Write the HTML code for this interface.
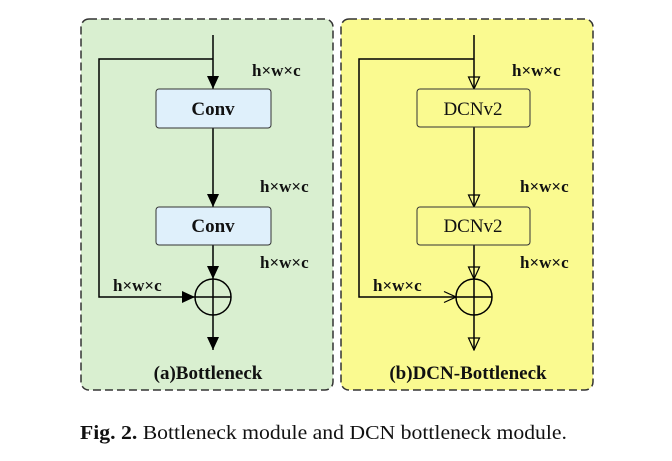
<!DOCTYPE html>
<html><head><style>body{margin:0;background:#fff}</style></head><body>
<svg width="672" height="456" xmlns="http://www.w3.org/2000/svg" font-family="Liberation Serif, serif">
<defs>
<marker id="f" markerWidth="14" markerHeight="14" refX="13" refY="6" orient="auto" markerUnits="userSpaceOnUse"><path d="M0,0 L13,6 L0,12 z" fill="#000"/></marker>
<marker id="o" markerWidth="14" markerHeight="14" refX="13" refY="6.5" orient="auto" markerUnits="userSpaceOnUse"><path d="M1,1 L13,6.5 L1,12 z" fill="none" stroke="#000" stroke-width="1.2"/></marker>
<marker id="h" markerWidth="14" markerHeight="14" refX="13" refY="6.5" orient="auto" markerUnits="userSpaceOnUse"><path d="M1,1 L13,6.5 L1,12" fill="none" stroke="#000" stroke-width="1.2"/></marker>
</defs>
<rect x="81" y="19" width="252" height="371" rx="8" fill="#d9efd0" stroke="#333" stroke-width="1.5" stroke-dasharray="8,4"/>
<rect x="341" y="19" width="252" height="371" rx="8" fill="#fafa90" stroke="#333" stroke-width="1.5" stroke-dasharray="8,4"/>
<g stroke="#000" stroke-width="1.5" fill="none">
<line x1="213" y1="35" x2="213" y2="89" marker-end="url(#f)"/>
<polyline points="213,59 99,59 99,297 195,297" marker-end="url(#f)"/>
<line x1="213" y1="128" x2="213" y2="207" marker-end="url(#f)"/>
<line x1="213" y1="245" x2="213" y2="279" marker-end="url(#f)"/>
<line x1="213" y1="315" x2="213" y2="350" marker-end="url(#f)"/>
<circle cx="213" cy="297" r="18"/><line x1="195" y1="297" x2="231" y2="297"/><line x1="213" y1="279" x2="213" y2="315"/>
<line x1="474" y1="35" x2="474" y2="89" marker-end="url(#o)"/>
<polyline points="474,59 359,59 359,297 456,297" marker-end="url(#h)"/>
<line x1="474" y1="127" x2="474" y2="207" marker-end="url(#o)"/>
<line x1="474" y1="245" x2="474" y2="279" marker-end="url(#o)"/>
<line x1="474" y1="315" x2="474" y2="350" marker-end="url(#o)"/>
<circle cx="474" cy="297" r="18"/><line x1="456" y1="297" x2="492" y2="297"/><line x1="474" y1="279" x2="474" y2="315"/>
</g>
<g stroke="#333" stroke-width="1">
<rect x="156" y="89" width="115" height="39" rx="3" fill="#dff0fb"/>
<rect x="156" y="207" width="115" height="38" rx="3" fill="#dff0fb"/>
<rect x="417" y="89" width="113" height="38" rx="3" fill="#fafa90"/>
<rect x="417" y="207" width="113" height="38" rx="3" fill="#fafa90"/>
</g>
<g font-size="19" font-weight="bold" fill="#111" text-anchor="middle">
<text x="213" y="115">Conv</text><text x="213" y="232">Conv</text>
<text x="473" y="115" font-weight="normal">DCNv2</text><text x="473" y="232" font-weight="normal">DCNv2</text>
<text x="208" y="379">(a)Bottleneck</text><text x="468" y="379">(b)DCN-Bottleneck</text>
</g>
<g font-size="17" font-weight="bold" fill="#111">
<text x="252" y="76">h×w×c</text><text x="260" y="192">h×w×c</text><text x="260" y="268">h×w×c</text><text x="113" y="291">h×w×c</text>
<text x="512" y="76">h×w×c</text><text x="520" y="192">h×w×c</text><text x="520" y="268">h×w×c</text><text x="373" y="291">h×w×c</text>
</g>
<text x="80" y="439" font-size="20" fill="#111" textLength="487" lengthAdjust="spacingAndGlyphs"><tspan font-weight="bold">Fig. 2.</tspan>  Bottleneck module and DCN bottleneck module.</text>
</svg>
</body></html>
